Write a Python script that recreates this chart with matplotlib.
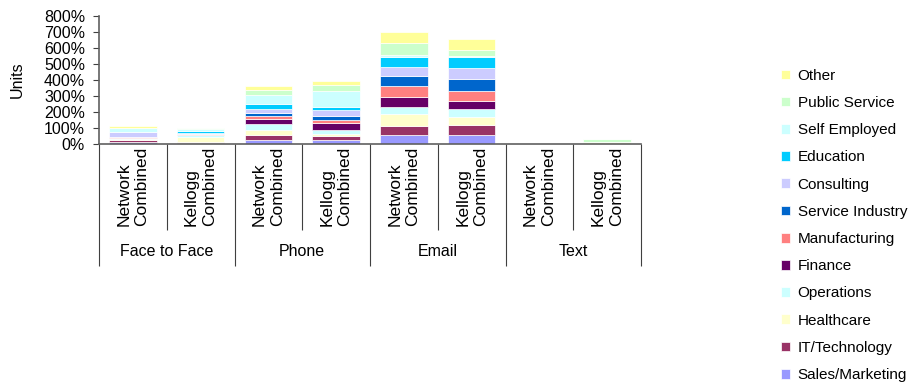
import matplotlib
matplotlib.use("Agg")
import matplotlib.pyplot as plt
import matplotlib.transforms as mtransforms
from matplotlib.ticker import PercentFormatter
import numpy as np

plt.rcParams['font.family'] = ['Liberation Sans', 'DejaVu Sans']

groups = ["Face to Face", "Phone", "Email", "Text"]
bar_labels = ["Network\nCombined", "Kellogg\nCombined"] * 4

industries = ["Sales/Marketing", "IT/Technology", "Healthcare", "Operations",
              "Finance", "Manufacturing", "Service Industry", "Consulting",
              "Education", "Self Employed", "Public Service", "Other"]
colors = ["#9999FF", "#993366", "#FFFFCC", "#CCFFFF", "#660066", "#FF8080",
          "#0066CC", "#CCCCFF", "#00CCFF", "#CCFFFF", "#CCFFCC", "#FFFF99"]

# percent values per bar (F2F net, F2F kel, Phone net, Phone kel, Email net, Email kel, Text net, Text kel)
sales_marketing = [10, 4, 25, 21, 54, 56, 0, 0]
it_technology   = [10, 6, 31, 29, 54, 63, 0, 0]
healthcare      = [10, 31, 31, 8, 77, 48, 0, 12]
operations      = [5, 10, 38, 25, 46, 48, 0, 0]
finance         = [2, 2, 29, 46, 59, 50, 0, 0]
manufacturing   = [6, 5, 17, 21, 73, 67, 0, 0]
service_ind     = [0, 3, 21, 23, 59, 75, 0, 0]
consulting      = [29, 5, 25, 40, 59, 67, 0, 0]
education       = [0, 12, 29, 17, 61, 71, 0, 0]
self_employed   = [25, 15, 59, 98, 15, 4, 0, 0]
public_service  = [3, 3, 31, 42, 75, 36, 0, 16]
other           = [8, 3, 23, 21, 67, 69, 0, 0]

series = [sales_marketing, it_technology, healthcare, operations, finance,
          manufacturing, service_ind, consulting, education, self_employed,
          public_service, other]

fig = plt.figure(figsize=(9.15, 3.83), dpi=100)
ax = fig.add_axes([99/915, 1-143.5/383, 542/915, 127.5/383])

x = np.arange(len(bar_labels)) + 0.5
bottom = np.zeros(len(bar_labels))
handles = []
for name, vals, col in zip(industries, series, colors):
    v = np.array(vals) / 100.0
    h = ax.bar(x, v, 0.7, bottom=bottom, color=col, edgecolor="white",
               linewidth=0.5, label=name)
    bottom += v
    handles.append(h)

ax.set_xlim(0, 8)
ax.set_ylim(0, 8)
ax.set_yticks(np.arange(0, 9, 1))
ax.yaxis.set_major_formatter(PercentFormatter(1.0, decimals=0))
ax.tick_params(axis='y', labelsize=11.5, length=4, color="#404040", pad=6)
ax.set_ylabel("Units", fontsize=11.5, labelpad=14)

ax.set_xticks([0, 2, 4, 6, 8])
ax.set_xticks([1, 3, 5, 7], minor=True)
ax.set_xticklabels([])
ax.tick_params(axis='x', which='major', length=87.5, width=0.8, color="#404040")
ax.tick_params(axis='x', which='minor', length=62, width=0.8, color="#404040")

for s in ["top", "right"]:
    ax.spines[s].set_visible(False)
for s in ["left", "bottom"]:
    ax.spines[s].set_color("#606060")
    ax.spines[s].set_linewidth(1.2)

trans = mtransforms.blended_transform_factory(ax.transData, fig.transFigure)
for xi, lab in zip(x, bar_labels):
    ax.text(xi, 1-147/383, lab, rotation=90, ha="center", va="top",
            multialignment="left", fontsize=12.5, transform=trans,
            linespacing=1.25)
for gi, g in enumerate(groups):
    ax.text(2*gi + 1, 1-251/383, g, ha="center", va="center",
            fontsize=11.5, transform=trans)

leg = fig.legend(handles[::-1], industries[::-1], loc="upper left",
                 bbox_to_anchor=(767/915, 1-55/383), frameon=False,
                 fontsize=11, handlelength=0.6, handleheight=0.6,
                 handletextpad=0.5, labelspacing=0.865)

fig.savefig("out.png", dpi=100)
